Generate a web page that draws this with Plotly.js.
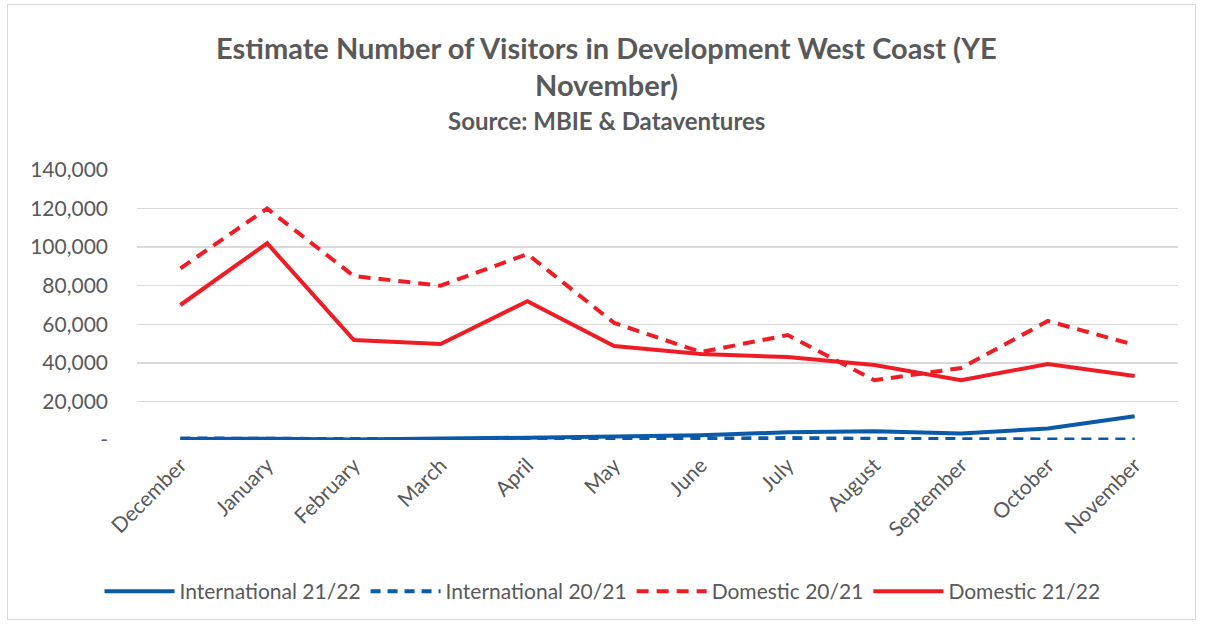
<!DOCTYPE html>
<html><head><meta charset="utf-8">
<script src="https://cdn.plot.ly/plotly-3.0.1.min.js"></script>
<style>body{margin:0;background:#fff}#wrap{position:relative;width:1205px;height:628px}#chart{width:1205px;height:628px}#frame{position:absolute;left:7px;top:4px;width:1187px;height:614px;border:1px solid #d9d9d9;pointer-events:none}</style>
</head><body><div id="wrap"><div id="chart"></div><div id="frame"></div></div>
<script>
const months = ["December","January","February","March","April","May","June","July","August","September","October","November"];
const intl2122 = [500,700,300,500,1200,1800,2500,4000,4500,3400,6000,12300];
const intl2021 = [800,600,300,200,200,300,600,1000,600,300,300,300];
const dom2021 = [89000,120000,85000,80000,96400,60700,45600,54400,31000,37300,61700,49300];
const dom2122 = [70000,102000,51800,49800,72000,48700,44600,43000,38900,31000,39400,33200];
const yTickVals = [0,20000,40000,60000,80000,100000,120000,140000];
const yTickText = ["-","20,000","40,000","60,000","80,000","100,000","120,000","140,000"];

const blue = "#0a5aa8", red = "#ee1c25";
const traces = [
  {x:months,y:intl2122,name:"International 21/22",mode:"lines",line:{color:blue,width:4}},
  {x:months,y:intl2021,name:"International 20/21",mode:"lines",line:{color:blue,width:4,dash:"10px,7px"}},
  {x:months,y:dom2021,name:"Domestic 20/21",mode:"lines",line:{color:red,width:4,dash:"12px,8px"}},
  {x:months,y:dom2122,name:"Domestic 21/22",mode:"lines",line:{color:red,width:4}}
];
const font = "Lato, Open Sans, sans-serif";
const layout = {
  width:1205,height:628,
  margin:{l:137,r:27,t:170,b:188},
  paper_bgcolor:"#fff",plot_bgcolor:"#fff",
  font:{family:font,color:"#595959",size:21},
  showlegend:true,
  legend:{orientation:"h",x:0.5,xref:"container",xanchor:"center",y:0.058,yref:"container",yanchor:"middle",font:{size:21,color:"#595959"},traceorder:"normal",itemwidth:70},
  xaxis:{type:"category",tickangle:-45,showgrid:false,zeroline:false,showline:false,ticks:"",ticklabelstandoff:8,tickfont:{size:21,color:"#595959"},range:[-0.5,11.5]},
  yaxis:{range:[0,140000],tickvals:yTickVals,ticktext:yTickText,showgrid:true,gridcolor:"#d9d9d9",gridwidth:1.5,zeroline:false,showline:false,ticks:"",ticklabelstandoff:28,tickfont:{size:21,color:"#595959"}}
};
layout.annotations = [
  {text:"<b>Estimate Number of Visitors in Development West Coast (YE</b>",font:{size:29,color:"#595959"},py:47},
  {text:"<b>November)</b>",font:{size:29,color:"#595959"},py:84},
  {text:"<b>Source: MBIE &amp; Dataventures</b>",font:{size:24,color:"#595959"},py:120}
].map(a=>({text:a.text,font:a.font,xref:"paper",yref:"paper",x:(606-137)/1041,y:(440-a.py)/270,showarrow:false,xanchor:"center",yanchor:"middle"}));
Plotly.newPlot("chart",traces,layout,{displayModeBar:false,staticPlot:true});
</script></body></html>
